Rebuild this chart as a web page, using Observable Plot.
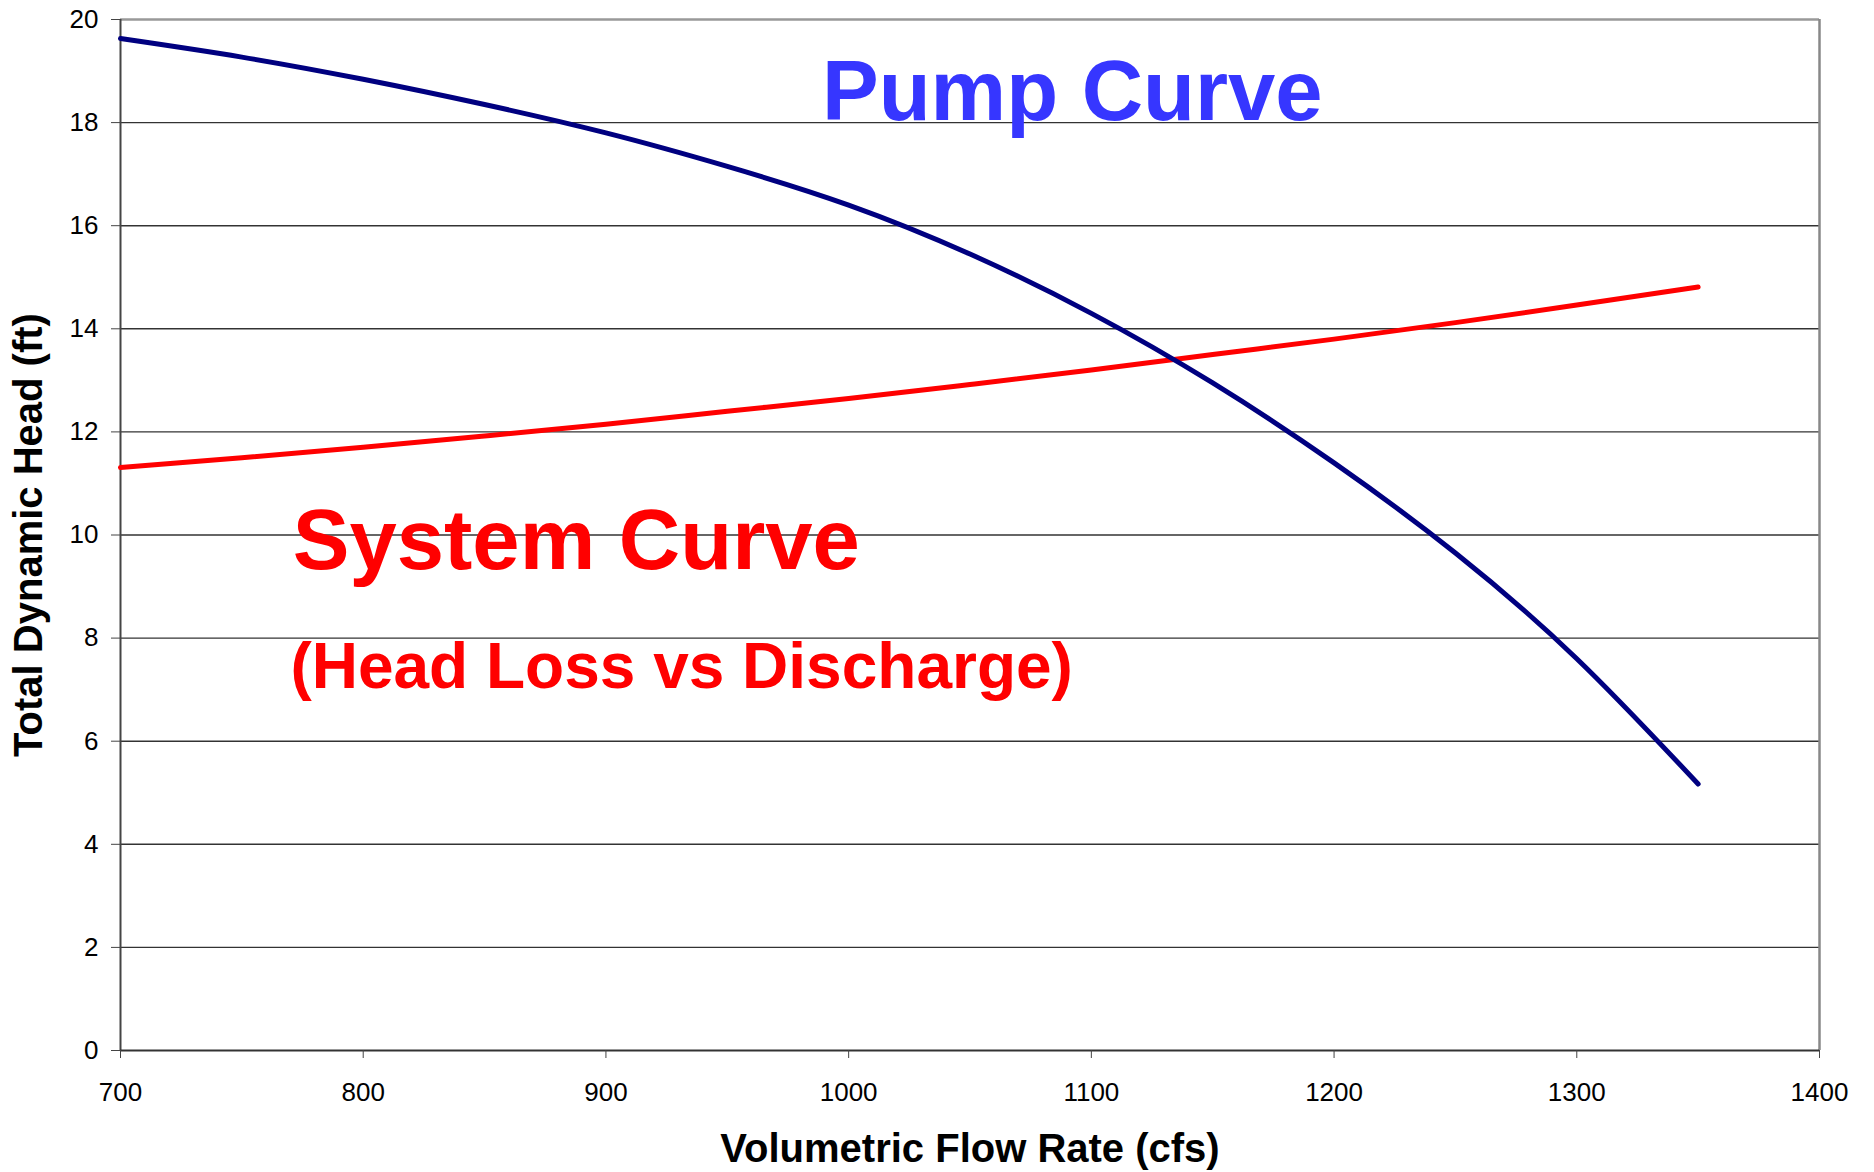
<!DOCTYPE html>
<html>
<head>
<meta charset="utf-8">
<script src="https://cdn.jsdelivr.net/npm/d3@7"></script>
<script src="https://cdn.jsdelivr.net/npm/@observablehq/plot@0.6"></script>
<style>
  html, body { margin: 0; padding: 0; background: #fff; }
  #chart svg { display: block; }
</style>
</head>
<body>
<div id="chart"></div>
<script>
// ---- data ----
const flowRate   = [700, 750, 800, 850, 900, 950, 1000, 1050, 1100, 1150, 1200, 1250, 1300, 1350];
const pumpHead   = [19.63, 19.27, 18.84, 18.35, 17.80, 17.15, 16.40, 15.45, 14.30, 12.95, 11.40, 9.65, 7.60, 5.17];
const systemHead = [11.31, 11.50, 11.70, 11.92, 12.15, 12.40, 12.65, 12.92, 13.20, 13.50, 13.80, 14.12, 14.46, 14.81];
const xTicks = [700, 800, 900, 1000, 1100, 1200, 1300, 1400];
const yTicks = [0, 2, 4, 6, 8, 10, 12, 14, 16, 18, 20];
const xTitle = "Volumetric Flow Rate (cfs)";
const yTitle = "Total Dynamic Head (ft)";
const pumpLabel = "Pump Curve";
const systemLabel = "System Curve";
const systemSubLabel = "(Head Loss vs Discharge)";

const pumpRows = flowRate.map((q, i) => ({q, h: pumpHead[i]}));
const systemRows = flowRate.map((q, i) => ({q, h: systemHead[i]}));

const FONT = "'Liberation Sans', Arial, Helvetica, sans-serif";

const chart = Plot.plot({
  width: 1874,
  height: 1172,
  marginLeft: 120,
  marginRight: 55,
  marginTop: 19,
  marginBottom: 122,
  style: {fontFamily: FONT, fontSize: "26px", color: "#000", background: "#fff", overflow: "visible"},
  x: {domain: [700, 1400]},
  y: {domain: [0, 20]},
  marks: [
    Plot.gridY(yTicks.filter(d => d > 0 && d < 20), {stroke: "#000", strokeOpacity: 0.8, strokeWidth: 1.4}),
    Plot.ruleY([20], {stroke: "#999", strokeWidth: 2.5}),
    Plot.ruleX([1400], {stroke: "#888", strokeWidth: 2.5}),
    Plot.ruleX([700], {stroke: "#444", strokeWidth: 2}),
    Plot.ruleY([0], {stroke: "#333", strokeWidth: 2}),
    Plot.axisX(xTicks, {tickSize: 8, tickPadding: 24, fontSize: 26, stroke: "#444", fill: "#000", label: null, tickFormat: d => String(d)}),
    Plot.axisY(yTicks, {tickSize: 9, tickPadding: 13, fontSize: 26, stroke: "#444", fill: "#000", label: null, tickFormat: d => String(d)}),
    Plot.line(systemRows, {x: "q", y: "h", stroke: "#FF0000", strokeWidth: 5, curve: "natural", strokeLinecap: "round"}),
    Plot.line(pumpRows, {x: "q", y: "h", stroke: "#000080", strokeWidth: 5, curve: "natural", strokeLinecap: "round"}),
    Plot.text([pumpLabel], {x: 989, y: 18.06, text: d => d, textAnchor: "start", lineAnchor: "bottom", fontSize: 85, fontWeight: "bold", fill: "#3636FF"}),
    Plot.text([systemLabel], {x: 771, y: 9.35, text: d => d, textAnchor: "start", lineAnchor: "bottom", fontSize: 85, fontWeight: "bold", fill: "#FF0000"}),
    Plot.text([systemSubLabel], {x: 770, y: 7.04, text: d => d, textAnchor: "start", lineAnchor: "bottom", fontSize: 64, fontWeight: "bold", fill: "#FF0000"}),
    Plot.text([xTitle], {frameAnchor: "bottom", text: d => d, dy: 111, textAnchor: "middle", lineAnchor: "bottom", fontSize: 40, fontWeight: "bold", fill: "#000"}),
    Plot.text([yTitle], {frameAnchor: "left", text: d => d, dx: -107, rotate: -90, textAnchor: "middle", lineAnchor: "top", fontSize: 40, fontWeight: "bold", fill: "#000"})
  ]
});
document.getElementById("chart").appendChild(chart);
</script>
</body>
</html>
